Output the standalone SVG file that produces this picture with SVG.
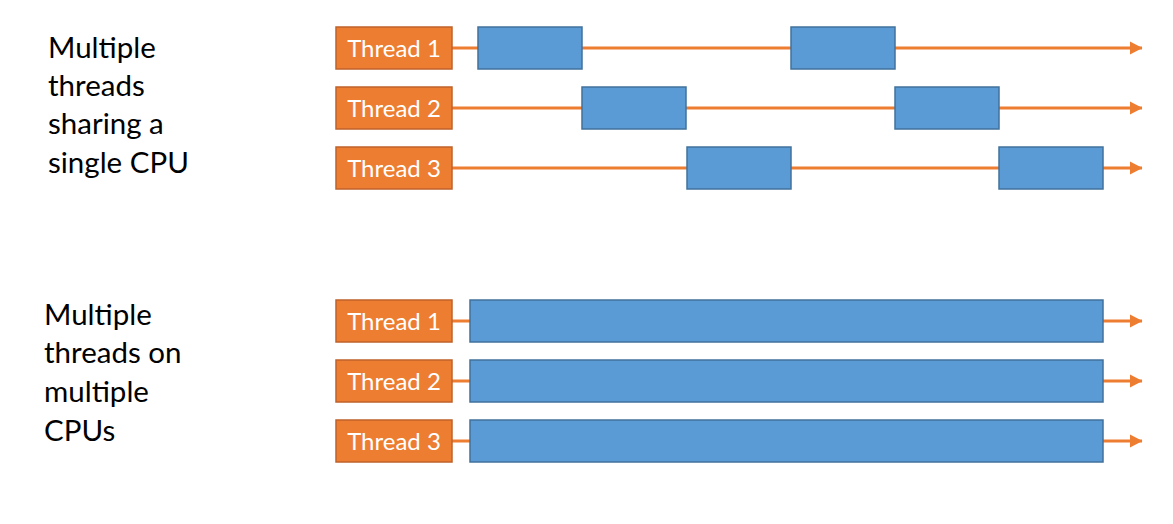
<svg xmlns="http://www.w3.org/2000/svg" width="1173" height="524" viewBox="0 0 1173 524">
<style>
.lbl{font-family:Lato,"Open Sans",sans-serif;font-size:29.5px;fill:#000}
.thr rect{fill:#ED7D31;stroke:#C0622A;stroke-width:1.5}
.thr text{font-family:Lato,"Open Sans",sans-serif;font-size:24px;fill:#fff;text-anchor:middle}
.blk{fill:#5B9BD5;stroke:#41719C;stroke-width:1.5}
.ln{stroke:#ED7D31;stroke-width:3;fill:none;marker-end:url(#ah)}
</style>
<defs>
<marker id="ah" markerWidth="14" markerHeight="14" refX="12" refY="7" orient="auto" markerUnits="userSpaceOnUse" overflow="visible">
<path d="M0,0.5 L12.5,7 L0,13.5 Z" fill="#ED7D31"/>
</marker>
</defs>
<rect width="1173" height="524" fill="#fff"/>
<g id="label-top">
<text class="lbl" x="48" y="58">Multiple</text>
<text class="lbl" x="48" y="96">threads</text>
<text class="lbl" x="48" y="134">sharing a</text>
<text class="lbl" x="48" y="173">single CPU</text>
</g>
<g id="label-bottom">
<text class="lbl" x="44" y="325">Multiple</text>
<text class="lbl" x="44" y="363">threads on</text>
<text class="lbl" x="44" y="402">multiple</text>
<text class="lbl" x="44" y="441">CPUs</text>
</g>
<g id="connectors">
<line class="ln" x1="452" y1="48" x2="1142" y2="48"/>
<line class="ln" x1="452" y1="108" x2="1142" y2="108"/>
<line class="ln" x1="452" y1="168" x2="1142" y2="168"/>
<line class="ln" x1="452" y1="321" x2="1142" y2="321"/>
<line class="ln" x1="452" y1="381" x2="1142" y2="381"/>
<line class="ln" x1="452" y1="441" x2="1142" y2="441"/>
</g>
<g id="t1-single" class="thr"><rect x="336" y="27" width="116" height="42"/><text x="394" y="57">Thread 1</text></g>
<g id="t2-single" class="thr"><rect x="336" y="87" width="116" height="42"/><text x="394" y="117">Thread 2</text></g>
<g id="t3-single" class="thr"><rect x="336" y="147" width="116" height="42"/><text x="394" y="177">Thread 3</text></g>
<g id="t1-blocks"><rect class="blk" x="478" y="27" width="104" height="42"/><rect class="blk" x="791" y="27" width="104" height="42"/></g>
<g id="t2-blocks"><rect class="blk" x="582" y="87" width="104" height="42"/><rect class="blk" x="895" y="87" width="104" height="42"/></g>
<g id="t3-blocks"><rect class="blk" x="687" y="147" width="104" height="42"/><rect class="blk" x="999" y="147" width="104" height="42"/></g>
<g id="t1-multi" class="thr"><rect x="336" y="300" width="116" height="42"/><text x="394" y="330">Thread 1</text></g>
<g id="t2-multi" class="thr"><rect x="336" y="360" width="116" height="42"/><text x="394" y="390">Thread 2</text></g>
<g id="t3-multi" class="thr"><rect x="336" y="420" width="116" height="42"/><text x="394" y="450">Thread 3</text></g>
<g id="m1-block"><rect class="blk" x="470" y="300" width="633" height="42"/></g>
<g id="m2-block"><rect class="blk" x="470" y="360" width="633" height="42"/></g>
<g id="m3-block"><rect class="blk" x="470" y="420" width="633" height="42"/></g>
</svg>
